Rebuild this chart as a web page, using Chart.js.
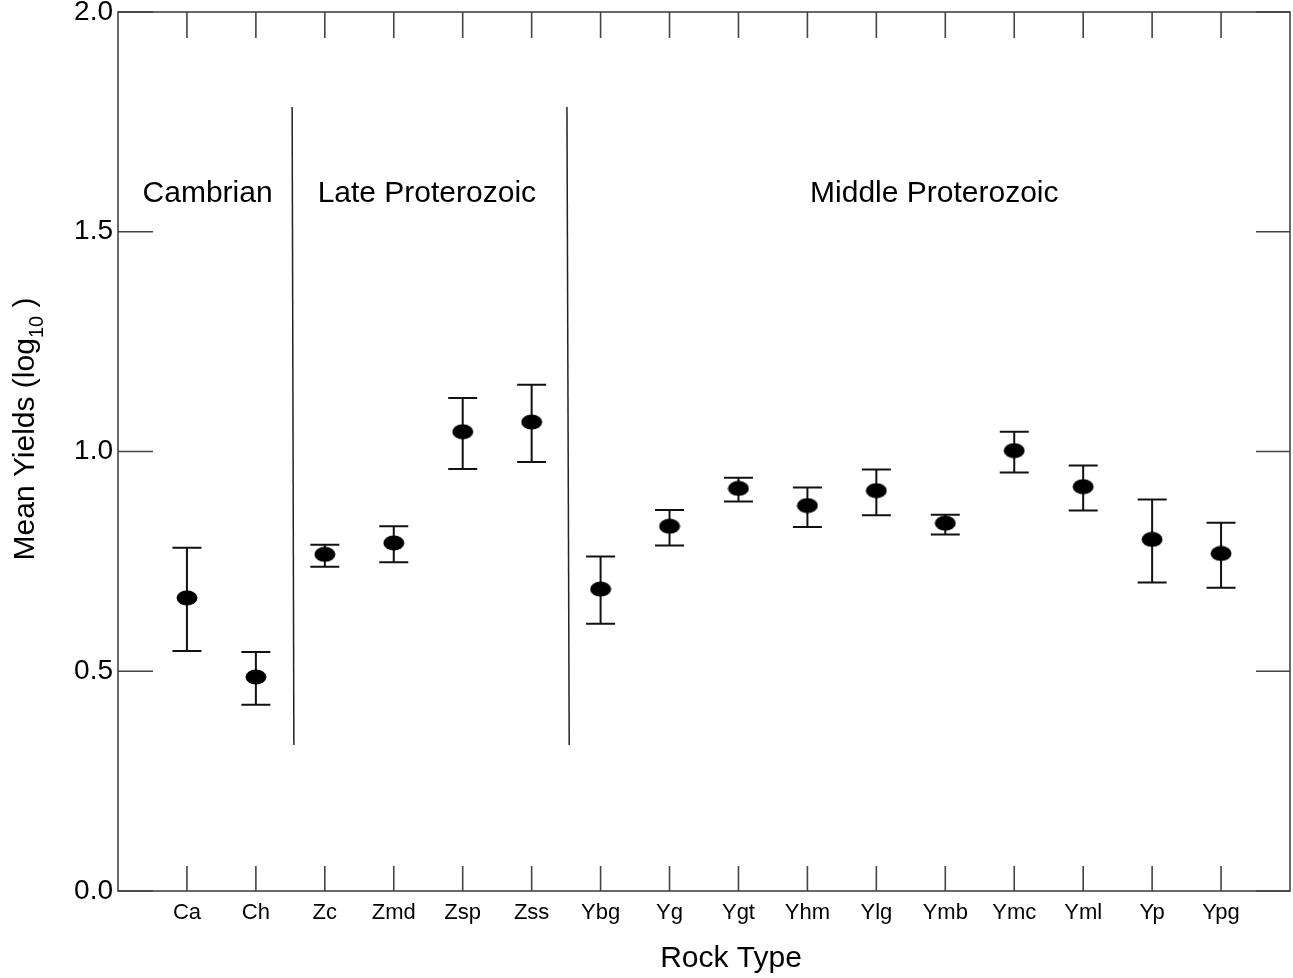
<html>
<head>
<script src="https://cdn.jsdelivr.net/npm/chart.js"></script>
<style>
	body { margin: 0; background: #fff; }
	#wrap { width: 1293px; height: 978px; }
</style>
</head>
<body>
<div id="wrap"><canvas id="yieldChart"></canvas></div>
<script>
// rock type codes, in plotting order (x = 1..16)
const rockTypes = ['Ca', 'Ch', 'Zc', 'Zmd', 'Zsp', 'Zss', 'Ybg', 'Yg', 'Ygt', 'Yhm', 'Ylg', 'Ymb', 'Ymc', 'Yml', 'Yp', 'Ypg'];
// mean yields (log10) and error bar ends
const meanYield = [0.667, 0.487, 0.766, 0.792, 1.045, 1.067, 0.687, 0.830, 0.916, 0.877, 0.911, 0.837, 1.002, 0.920, 0.800, 0.768];
const upperErr  = [0.781, 0.544, 0.788, 0.830, 1.122, 1.152, 0.761, 0.867, 0.940, 0.918, 0.959, 0.856, 1.045, 0.968, 0.891, 0.838];
const lowerErr  = [0.546, 0.424, 0.738, 0.748, 0.960, 0.976, 0.608, 0.786, 0.886, 0.828, 0.855, 0.811, 0.952, 0.866, 0.702, 0.690];
const yTickValues = [0, 0.5, 1.0, 1.5, 2.0];

// age groups written above the points
const groupNames = ['Cambrian', 'Late Proterozoic', 'Middle Proterozoic'];
const groupLabelX = [1.3, 4.48, 11.84];
const groupLabelY = 1.568;
// divider lines between the groups (top x, bottom x)
const dividerTopX = [2.526, 6.512];
const dividerBottomX = [2.551, 6.545];
const dividerTopY = 1.784;
const dividerBottomY = 0.332;

const FONT = '"Liberation Sans", Arial, Helvetica, sans-serif';

// filled ellipse used as the point marker
const dot = document.createElement('canvas');
dot.width = 22;
dot.height = 16;
const dctx = dot.getContext('2d');
dctx.fillStyle = '#000';
dctx.beginPath();
dctx.ellipse(11, 8, 10.5, 7.5, 0, 0, Math.PI * 2);
dctx.fill();

// no extra room for overhanging tick labels
function noPadding(s) {
	s.paddingTop = 0; s.paddingBottom = 0; s.paddingLeft = 0; s.paddingRight = 0;
}

const decorations = {
	id: 'decorations',
	beforeDatasetsDraw(chart) {
		const { ctx, chartArea: a, scales: { x, y } } = chart;
		ctx.save();

		// frame
		ctx.strokeStyle = '#444';
		ctx.lineWidth = 1.6;
		ctx.strokeRect(a.left, a.top, a.right - a.left, a.bottom - a.top);

		// inward tick marks
		x.ticks.forEach(t => {
			if (t.value < 1 || t.value > rockTypes.length) return;
			const px = x.getPixelForValue(t.value);
			ctx.beginPath();
			ctx.moveTo(px, a.bottom); ctx.lineTo(px, a.bottom - 25);
			ctx.moveTo(px, a.top); ctx.lineTo(px, a.top + 26);
			ctx.stroke();
		});
		y.ticks.forEach(t => {
			const py = y.getPixelForValue(t.value);
			ctx.beginPath();
			ctx.moveTo(a.left, py); ctx.lineTo(a.left + 35, py);
			ctx.moveTo(a.right, py); ctx.lineTo(a.right - 34, py);
			ctx.stroke();
		});

		// group dividers
		ctx.strokeStyle = '#222';
		ctx.lineWidth = 1.5;
		dividerTopX.forEach((xt, i) => {
			ctx.beginPath();
			ctx.moveTo(x.getPixelForValue(xt), y.getPixelForValue(dividerTopY));
			ctx.lineTo(x.getPixelForValue(dividerBottomX[i]), y.getPixelForValue(dividerBottomY));
			ctx.stroke();
		});

		// group names
		ctx.fillStyle = '#000';
		ctx.font = '30px ' + FONT;
		ctx.textAlign = 'center';
		ctx.textBaseline = 'alphabetic';
		groupNames.forEach((name, i) => {
			ctx.fillText(name, x.getPixelForValue(groupLabelX[i]), y.getPixelForValue(groupLabelY));
		});

		// error bars
		ctx.strokeStyle = '#111';
		ctx.lineWidth = 2;
		rockTypes.forEach((r, i) => {
			const px = x.getPixelForValue(i + 1);
			const top = y.getPixelForValue(upperErr[i]);
			const bot = y.getPixelForValue(lowerErr[i]);
			ctx.beginPath();
			ctx.moveTo(px, top); ctx.lineTo(px, bot);
			ctx.moveTo(px - 14.5, top); ctx.lineTo(px + 14.5, top);
			ctx.moveTo(px - 14.5, bot); ctx.lineTo(px + 14.5, bot);
			ctx.stroke();
		});
		ctx.restore();
	},
	afterDraw(chart) {
		const { ctx } = chart;
		ctx.save();
		ctx.fillStyle = '#000';
		ctx.textBaseline = 'alphabetic';

		// x axis title
		ctx.font = '30px ' + FONT;
		ctx.textAlign = 'center';
		ctx.fillText('Rock Type', 731, 967);

		// y axis title with subscript
		ctx.textAlign = 'left';
		const main = 'Mean Yields (log';
		const sub = '10';
		const tail = ' )';
		ctx.font = '30px ' + FONT;
		const w1 = ctx.measureText(main).width;
		const w3 = ctx.measureText(tail).width;
		ctx.font = '20px ' + FONT;
		const w2 = ctx.measureText(sub).width;
		const total = w1 + w2 + w3;
		ctx.translate(34, 429 + total / 2);
		ctx.rotate(-Math.PI / 2);
		ctx.font = '30px ' + FONT;
		ctx.fillText(main, 0, 0);
		ctx.font = '20px ' + FONT;
		ctx.fillText(sub, w1, 9);
		ctx.font = '30px ' + FONT;
		ctx.fillText(tail, w1 + w2, 0);
		ctx.restore();
	}
};

new Chart(document.getElementById('yieldChart'), {
	type: 'scatter',
	data: {
		datasets: [{
			data: rockTypes.map((r, i) => ({ x: i + 1, y: meanYield[i] })),
			pointStyle: dot,
			pointRadius: 10,
			backgroundColor: '#000',
			borderColor: '#000'
		}]
	},
	options: {
		responsive: true,
		maintainAspectRatio: false,
		animation: false,
		devicePixelRatio: 1,
		layout: { autoPadding: false, padding: { top: 12, right: 3, left: 0, bottom: 0 } },
		plugins: { legend: { display: false }, tooltip: { enabled: false } },
		scales: {
			x: {
				type: 'linear',
				min: 0,
				max: rockTypes.length + 1,
				afterBuildTicks: s => { s.ticks = Array.from({ length: rockTypes.length + 2 }, (_, i) => ({ value: i })); },
				afterFit: s => { s.height = 87; noPadding(s); },
				grid: { display: false, drawTicks: false },
				border: { display: false },
				ticks: {
					autoSkip: false,
					maxRotation: 0,
					padding: 9,
					color: '#000',
					font: { family: FONT, size: 22 },
					callback: v => rockTypes[v - 1] || ''
				}
			},
			y: {
				min: 0,
				max: 2,
				afterBuildTicks: s => { s.ticks = yTickValues.map(v => ({ value: v })); },
				afterFit: s => { s.width = 118; noPadding(s); },
				grid: { display: false, drawTicks: false },
				border: { display: false },
				ticks: {
					padding: 5,
					color: '#000',
					font: { family: FONT, size: 28 },
					callback: v => v.toFixed(1)
				}
			}
		}
	},
	plugins: [decorations]
});
</script>
</body>
</html>
